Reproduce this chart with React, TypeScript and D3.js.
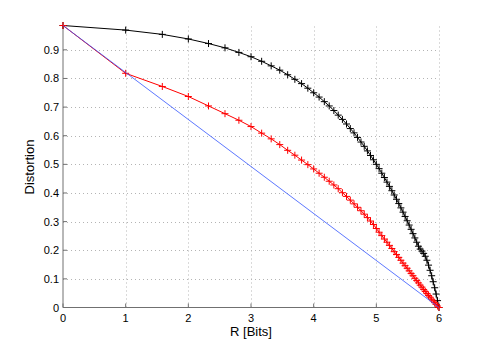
import { useEffect, useRef } from 'react';
import * as d3 from 'd3';

// Rate in bits (log2 of codebook size 1..64)
const rBits = [
  0, 1, 1.585, 2, 2.322, 2.585, 2.807, 3, 3.17, 3.322, 3.459, 3.585, 3.7, 3.807, 3.907, 4,
  4.087, 4.17, 4.248, 4.322, 4.392, 4.459, 4.524, 4.585, 4.644, 4.7, 4.755, 4.807, 4.858, 4.907, 4.954, 5,
  5.044, 5.087, 5.129, 5.17, 5.209, 5.248, 5.285, 5.322, 5.358, 5.392, 5.426, 5.459, 5.492, 5.524, 5.555, 5.585,
  5.615, 5.644, 5.672, 5.7, 5.728, 5.755, 5.781, 5.807, 5.833, 5.858, 5.883, 5.907, 5.931, 5.954, 5.977, 6,
];

// Curva negra
const distNegra = [
  0.985, 0.969, 0.954, 0.938, 0.922, 0.907, 0.891, 0.876, 0.86, 0.844, 0.829, 0.813, 0.797, 0.782, 0.766, 0.75,
  0.735, 0.719, 0.704, 0.688, 0.672, 0.657, 0.641, 0.625, 0.61, 0.594, 0.578, 0.563, 0.547, 0.531, 0.516, 0.5,
  0.485, 0.469, 0.454, 0.438, 0.423, 0.408, 0.393, 0.378, 0.363, 0.348, 0.333, 0.318, 0.303, 0.288, 0.273, 0.258,
  0.243, 0.228, 0.214, 0.204, 0.197, 0.189, 0.179, 0.165, 0.148, 0.13, 0.111, 0.09, 0.069, 0.047, 0.024, 0,
];

// Curva roja
const distRoja = [
  0.985, 0.818, 0.772, 0.737, 0.704, 0.677, 0.654, 0.632, 0.609, 0.589, 0.569, 0.549, 0.532, 0.515, 0.499, 0.484,
  0.469, 0.455, 0.441, 0.428, 0.415, 0.401, 0.388, 0.375, 0.362, 0.35, 0.338, 0.326, 0.314, 0.302, 0.29, 0.276,
  0.263, 0.251, 0.239, 0.228, 0.217, 0.206, 0.195, 0.185, 0.175, 0.165, 0.155, 0.146, 0.137, 0.128, 0.119, 0.111,
  0.102, 0.094, 0.086, 0.078, 0.071, 0.063, 0.056, 0.049, 0.042, 0.036, 0.029, 0.023, 0.017, 0.011, 0.005, 0,
];

// Recta azul
const rAzul = [0, 6];
const distAzul = [0.985, 0];

const xTicks = [0, 1, 2, 3, 4, 5, 6];
const yTicks = [0, 0.1, 0.2, 0.3, 0.4, 0.5, 0.6, 0.7, 0.8, 0.9];

export default function App() {
  const ref = useRef<SVGSVGElement>(null);

  useEffect(() => {
    const width = 485;
    const height = 346;
    const svg = d3.select(ref.current);
    svg.selectAll('*').remove();
    svg.attr('width', width).attr('height', height);

    const x = d3.scaleLinear().domain([0, 6]).range([63, 439]);
    const y = d3.scaleLinear().domain([0, 0.985]).range([307.5, 25.5]);
    const font = 'Helvetica, Arial, "Liberation Sans", sans-serif';
    const axisColor = '#707070';

    svg.append('rect').attr('width', width).attr('height', height).attr('fill', '#fff');

    // Rejilla
    const grid = svg.append('g').attr('stroke', '#b4b4b4').attr('stroke-width', 1).attr('stroke-dasharray', '1,3');
    xTicks.filter(t => t > 0).forEach(t => {
      grid.append('line')
        .attr('x1', Math.round(x(t)) + 0.5).attr('x2', Math.round(x(t)) + 0.5)
        .attr('y1', y(0)).attr('y2', y(0.985));
    });
    yTicks.filter(t => t > 0).forEach(t => {
      grid.append('line')
        .attr('x1', x(0)).attr('x2', x(6))
        .attr('y1', Math.round(y(t)) + 0.5).attr('y2', Math.round(y(t)) + 0.5);
    });

    // Ejes
    svg.append('line')
      .attr('x1', x(0)).attr('x2', x(0)).attr('y1', y(0)).attr('y2', y(0.985))
      .attr('stroke', axisColor).attr('stroke-width', 1);
    svg.append('line')
      .attr('x1', x(0)).attr('x2', x(6)).attr('y1', y(0)).attr('y2', y(0))
      .attr('stroke', axisColor).attr('stroke-width', 1);

    // Marcas y etiquetas
    xTicks.forEach(t => {
      svg.append('line')
        .attr('x1', x(t)).attr('x2', x(t)).attr('y1', y(0)).attr('y2', y(0) - 4)
        .attr('stroke', axisColor);
      svg.append('text')
        .attr('x', x(t)).attr('y', y(0) + 14)
        .attr('text-anchor', 'middle')
        .attr('font-family', font).attr('font-size', 11).attr('fill', '#000')
        .text(String(t));
    });
    yTicks.forEach(t => {
      svg.append('line')
        .attr('x1', x(0)).attr('x2', x(0) + 4).attr('y1', y(t)).attr('y2', y(t))
        .attr('stroke', axisColor);
      svg.append('text')
        .attr('x', x(0) - 4).attr('y', y(t) + 4)
        .attr('text-anchor', 'end')
        .attr('font-family', font).attr('font-size', 11).attr('fill', '#000')
        .text(d3.format('')(t));
    });

    svg.append('text')
      .attr('x', 251).attr('y', 336)
      .attr('text-anchor', 'middle')
      .attr('font-family', font).attr('font-size', 13).attr('fill', '#000')
      .text('R [Bits]');
    svg.append('text')
      .attr('transform', `translate(34,167) rotate(-90)`)
      .attr('text-anchor', 'middle')
      .attr('font-family', font).attr('font-size', 13).attr('fill', '#000')
      .text('Distortion');

    const linea = d3.line<[number, number]>().x(d => x(d[0])).y(d => y(d[1]));

    const dibujaSerie = (rs: number[], ds: number[], color: string, marcas: boolean, ancho: number) => {
      const pts = rs.map((r, i) => [r, ds[i]] as [number, number]);
      svg.append('path')
        .datum(pts)
        .attr('d', linea)
        .attr('fill', 'none')
        .attr('stroke', color)
        .attr('stroke-width', ancho);
      if (!marcas) return;
      const g = svg.append('g').attr('stroke', color).attr('stroke-width', 1);
      pts.forEach(p => {
        const cx = x(p[0]);
        const cy = y(p[1]);
        g.append('line').attr('x1', cx - 3.5).attr('x2', cx + 3.5).attr('y1', cy).attr('y2', cy);
        g.append('line').attr('x1', cx).attr('x2', cx).attr('y1', cy - 3.5).attr('y2', cy + 3.5);
      });
    };

    dibujaSerie(rBits, distNegra, '#000000', true, 1);
    dibujaSerie(rBits, distRoja, '#ff0000', true, 1);
    dibujaSerie(rAzul, distAzul, '#3355ff', false, 0.8);
  }, []);

  return <svg ref={ref} style={{ position: 'absolute', left: 0, top: 0 }} />;
}
